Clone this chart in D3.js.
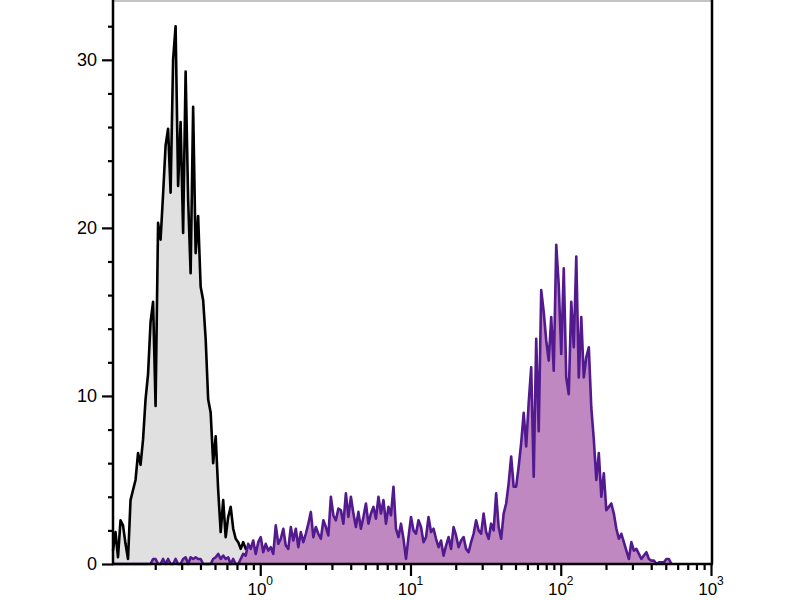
<!DOCTYPE html>
<html>
<head>
<meta charset="utf-8">
<script src="https://cdn.jsdelivr.net/npm/d3@7"></script>
<style>
  body { margin: 0; background: #fff; }
  text { font-family: "Liberation Sans", Arial, sans-serif; fill: #000; }
</style>
</head>
<body>
<div id="chart"></div>
<script>
// channels are evenly spaced in log10 units
const firstChannel = -0.98;
const channelsPerDecade = 60;

// isotype control (grey)
const controlCounts = [
  0.8, 1.9, 0.4, 2.6, 2.3, 1.2, 0.3, 3.8, 4.4, 5.0,
  6.6, 5.9, 7.4, 9.8, 11.3, 14.4, 15.6, 9.4, 20.3, 19.3,
  22.0, 24.9, 25.9, 22.1, 30.0, 32.0, 22.5, 26.3, 19.7, 29.3,
  21.7, 17.3, 27.2, 18.5, 20.7, 16.5, 15.7, 13.4, 9.8, 9.0,
  6.0, 7.6, 4.4, 1.9, 3.8, 1.6, 2.8, 3.4, 2.1, 1.5,
  1.3, 0.9, 1.3, 0.9, 1.0, 0.7, 0.9, 0.6, 0.5, 0.2,
  0
];

// stained sample (purple)
const stainedCounts = [
  0, 0, 0, 0, 0, 0, 0, 0, 0, 0,
  0, 0, 0, 0, 0, 0, 0.3, 0.3, 0, 0,
  0.3, 0, 0.3, 0, 0, 0.3, 0, 0, 0.3, 0.4,
  0, 0.4, 0.3, 0.4, 0.3, 0.3, 0, 0, 0, 0,
  0.3, 0.4, 0.6, 0.3, 0.5, 0.3, 0.4, 0, 0.3, 0,
  0, 0.3, 0.6, 0.5, 1.2, 0.9, 1.4, 0.6, 1.3, 1.6,
  0.7, 1.2, 0.8, 1.0, 0.6, 2.3, 1.2, 1.5, 2.1, 1.1,
  0.9, 2.2, 1.4, 2.1, 1.0, 1.9, 1.3, 1.8, 2.4, 3.1,
  1.6, 2.2, 1.8, 1.5, 2.6, 2.2, 1.7, 4.0, 2.9, 2.6,
  3.3, 3.2, 2.4, 4.2, 2.8, 4.0, 3.0, 2.2, 3.1, 2.1,
  2.8, 3.6, 2.4, 3.0, 3.4, 2.7, 4.0, 3.0, 3.8, 2.4,
  3.4, 2.9, 4.6, 2.1, 1.6, 2.4, 1.5, 0.3, 1.6, 2.8,
  2.0, 1.8, 2.6, 2.2, 1.3, 1.6, 2.8, 1.9, 2.1, 1.5,
  1.0, 1.4, 0.5, 1.1, 1.6, 0.9, 2.2, 1.7, 1.0, 1.4,
  1.6, 0.9, 0.7, 1.3, 1.8, 2.6, 2.0, 1.8, 3.0, 1.9,
  1.5, 2.4, 2.0, 4.2, 2.2, 1.5, 3.0, 3.6, 4.8, 6.4,
  4.6, 4.6, 5.8, 7.2, 9.0, 7.0, 9.6, 11.7, 5.2, 13.4,
  7.9, 16.3, 15.0, 13.3, 12.1, 14.7, 11.5, 19.0, 16.6, 12.5,
  17.6, 11.1, 10.1, 15.6, 12.9, 18.3, 11.1, 14.7, 11.1, 12.3,
  12.9, 9.3, 7.4, 5.0, 6.6, 4.0, 5.4, 3.2, 3.4, 3.6,
  3.0, 2.1, 1.5, 1.8, 1.3, 0.8, 0.3, 1.3, 0.8, 0.9,
  0.6, 0.3, 0.5, 0.7, 0.3, 0.2, 0.2, 0, 0.1, 0.1,
  0.1, 0.3, 0.3, 0
];

const yMajorTicks = [0, 10, 20, 30];
const yMinorTicks = [2, 4, 6, 8, 12, 14, 16, 18, 22, 24, 26, 28, 32];
const xMajorTicks = [1, 10, 100, 1000];
const xTickExponents = ["0", "1", "2", "3"];

const width = 800, height = 600;
const margin = { top: 1, right: 89, bottom: 36, left: 113 };

const svg = d3.select("#chart").append("svg")
  .attr("width", width)
  .attr("height", height);

const x = d3.scaleLog()
  .domain([Math.pow(10, firstChannel), 1000])
  .range([margin.left, width - margin.right]);

const y = d3.scaleLinear()
  .domain([0, 33.5])
  .range([height - margin.bottom, margin.top]);

const toPoints = counts => counts.map((c, i) => ({
  v: Math.pow(10, firstChannel + i / channelsPerDecade),
  c: c
}));

const area = d3.area().x(d => x(d.v)).y0(y(0)).y1(d => y(d.c));
const line = d3.line().x(d => x(d.v)).y(d => y(d.c));

function drawHist(counts, fill, stroke) {
  const pts = toPoints(counts);
  svg.append("path").datum(pts).attr("d", area).attr("fill", fill);
  svg.append("path").datum(pts).attr("d", line)
    .attr("fill", "none")
    .attr("stroke", stroke)
    .attr("stroke-width", 2.6)
    .attr("stroke-linejoin", "round");
}

drawHist(controlCounts, "#e0e0e0", "#000");
drawHist(stainedCounts, "#bf88c0", "#521a8e");

// frame: thin top, heavy right
svg.append("line")
  .attr("x1", margin.left).attr("x2", width - margin.right)
  .attr("y1", 1).attr("y2", 1)
  .attr("stroke", "#888").attr("stroke-width", 1);
svg.append("line")
  .attr("x1", width - margin.right + 1).attr("x2", width - margin.right + 1)
  .attr("y1", 0).attr("y2", y(0))
  .attr("stroke", "#000").attr("stroke-width", 2.5);

// y axis
const yAxisG = svg.append("g").attr("transform", `translate(${margin.left},0)`);
yAxisG.call(d3.axisLeft(y).tickValues(yMajorTicks).tickSize(11).tickSizeOuter(0).tickPadding(5));
yAxisG.append("g").call(d3.axisLeft(y).tickValues(yMinorTicks).tickSize(5).tickFormat(""))
  .select(".domain").remove();
yAxisG.selectAll(".domain").attr("stroke-width", 2.5).attr("d", `M0,${y(0) + 1}V0`);
yAxisG.selectAll(".tick line").attr("stroke-width", 2.2);
yAxisG.selectAll(".tick text").attr("font-size", 18);

// x axis
const minorX = [];
[-1, 0, 1, 2].forEach(e => {
  d3.range(2, 10).forEach(m => {
    const v = m * Math.pow(10, e);
    if (v > x.domain()[0] && v < 1000) minorX.push(v);
  });
});

const xAxisG = svg.append("g").attr("transform", `translate(0,${y(0)})`);
xAxisG.call(d3.axisBottom(x).tickValues(xMajorTicks).tickSize(12).tickSizeOuter(0).tickFormat(""));
xAxisG.append("g").call(d3.axisBottom(x).tickValues(minorX).tickSize(6).tickFormat(""))
  .select(".domain").remove();
xAxisG.selectAll(".domain").attr("stroke-width", 2.5)
  .attr("d", `M${margin.left - 1},0H${width - margin.right + 2}`);
xAxisG.selectAll(".tick line").attr("stroke-width", 2.2);

const xLabels = svg.append("g");
xMajorTicks.forEach((v, i) => {
  const t = xLabels.append("text")
    .attr("x", x(v))
    .attr("y", 595)
    .attr("text-anchor", "middle")
    .attr("font-size", 17);
  t.append("tspan").text("10");
  t.append("tspan").attr("dy", -10).attr("font-size", 12).text(xTickExponents[i]);
});
</script>
</body>
</html>
